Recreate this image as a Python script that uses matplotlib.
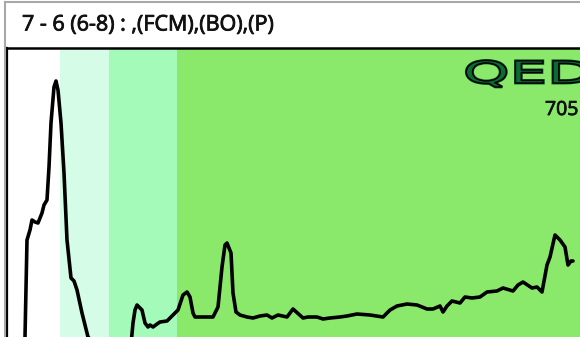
import matplotlib
matplotlib.use("Agg")
import matplotlib.pyplot as plt
from matplotlib.lines import Line2D
from matplotlib.textpath import TextPath
from matplotlib.patches import PathPatch
from matplotlib.font_manager import FontProperties
from matplotlib.transforms import Affine2D, IdentityTransform
import matplotlib.patheffects as pe

# titre et textes
title = "7 - 6 (6-8) : ,(FCM),(BO),(P)"
logo = "QED"
count_label = "705"

# bandes de fond (debut, fin, couleur)
band_edges = [0, 53, 102, 170, 573]
band_colors = ["#ffffff", "#d4fce6", "#a3fab9", "#8ae96b"]

# courbe (x, intensite)
curve_x = [16, 18, 20, 23, 25, 28, 31, 35, 37, 40, 42, 44, 47, 49, 51, 54, 57, 60,
           64, 67, 70, 75, 81, 121, 126, 128, 130, 135, 138, 141, 143, 146,
           150, 153, 160, 171, 176, 180, 183, 186, 188, 193, 198, 206, 211, 215,
           218, 220, 224, 226, 229, 233, 240, 246, 253, 260, 265, 271, 280, 286,
           296, 301, 310, 316, 323, 333, 340, 350, 363, 376, 383, 390, 400, 410,
           420, 426, 433, 436, 440, 445, 453, 458, 465, 473, 480, 490, 496, 506,
           511, 516, 525, 530, 535, 540, 543, 548, 553, 558, 561, 564, 566]
curve_y = [-40, 0, 97, 107, 117, 115, 114, 124, 132, 137, 170, 214, 250, 256, 247,
           214, 164, 97, 59, 56, 47, 24, 0, -40, 14, 27, 32, 27, 14, 10, 12,
           10, 13, 15, 16, 27, 42, 45, 40, 24, 20, 20, 20, 20, 30, 70, 92,
           94, 84, 44, 25, 22, 20, 19, 21, 22, 19, 22, 20, 28, 19, 20, 20, 18,
           19, 20, 21, 23, 22, 20, 27, 31, 33, 32, 28, 28, 31, 25, 31, 36, 34,
           40, 39, 40, 45, 46, 49, 46, 52, 55, 49, 50, 45, 72, 80, 102, 97,
           90, 72, 76, 76]

fig = plt.figure(figsize=(5.8, 3.37), dpi=100)
W, H = 580, 337

# cadre gris exterieur
fig.add_artist(Line2D([5 / W, 5 / W], [0, 1 - 2 / H], color="#a8a8a8", lw=1.5))
fig.add_artist(Line2D([5 / W, 1], [1 - 2 / H, 1 - 2 / H], color="#a8a8a8", lw=1.5))

bold_fx = [pe.withStroke(linewidth=0.6, foreground="#111111")]
fig.text(22 / W, 1 - 25 / H, title, fontsize=15.5, family="Open Sans",
         va="center", ha="left", color="#111111", path_effects=bold_fx)

ax = fig.add_axes([7 / W, 0, 1 - 7 / W, 1 - 48 / H])
for i, c in enumerate(band_colors):
    ax.axvspan(band_edges[i], band_edges[i + 1], color=c, lw=0, zorder=0)
ax.plot(curve_x, curve_y, color="black", lw=2.6, solid_joinstyle="round",
        solid_capstyle="round", zorder=3)
ax.set_xlim(band_edges[0], band_edges[-1])
ax.set_ylim(0, 289)
ax.set_xticks([])
ax.set_yticks([])
for s in ["right", "bottom"]:
    ax.spines[s].set_visible(False)
ax.spines["left"].set_linewidth(1.6)
ax.spines["top"].set_linewidth(1.8)

# le chiffre est coupe par le bord droit
ax.text((545 - 7) / 573, 1 - 62 / 289, count_label, transform=ax.transAxes,
        ha="left", va="center", fontsize=14, family="Open Sans",
        color="#111111", clip_on=False, path_effects=bold_fx)

# logo QED, police etiree horizontalement
tp = TextPath((0, 0), logo, size=38, prop=FontProperties(family="DejaVu Sans"))
tr = Affine2D().scale(1.56, 0.8).translate(463, H - 83)
patch = PathPatch(tr.transform_path(tp), facecolor="#0c6b35", edgecolor="black",
                  lw=1.0, transform=IdentityTransform())
patch.set_path_effects([pe.withStroke(linewidth=2.0, foreground="#0a3d1e")])
fig.add_artist(patch)

fig.savefig("out.png", dpi=100)
